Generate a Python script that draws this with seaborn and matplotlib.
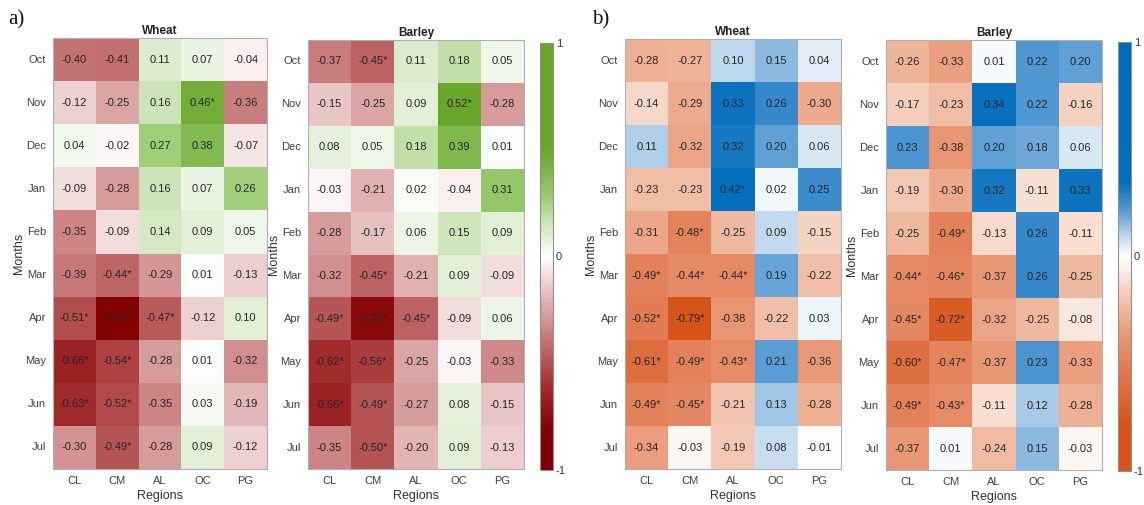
import numpy as np
import pandas as pd
import seaborn as sns
import matplotlib
matplotlib.use("Agg")
import matplotlib.pyplot as plt
from matplotlib.colors import LinearSegmentedColormap, Normalize
from matplotlib.cm import ScalarMappable

sns.set_theme(style="white")
plt.rcParams["font.family"] = ["Liberation Sans", "DejaVu Sans"]

months = ["Oct", "Nov", "Dec", "Jan", "Feb", "Mar", "Apr", "May", "Jun", "Jul"]
regions = ["CL", "CM", "AL", "OC", "PG"]
sig_level = 0.42  # |r| at or above this is flagged with an asterisk

# panel a) correlations
a_wheat = [
    [-0.40, -0.41, 0.11, 0.07, -0.04],
    [-0.12, -0.25, 0.16, 0.46, -0.36],
    [0.04, -0.02, 0.27, 0.38, -0.07],
    [-0.09, -0.28, 0.16, 0.07, 0.26],
    [-0.35, -0.09, 0.14, 0.09, 0.05],
    [-0.39, -0.44, -0.29, 0.01, -0.13],
    [-0.51, -0.83, -0.47, -0.12, 0.10],
    [-0.66, -0.54, -0.28, 0.01, -0.32],
    [-0.63, -0.52, -0.35, 0.03, -0.19],
    [-0.30, -0.49, -0.28, 0.09, -0.12],
]
a_barley = [
    [-0.37, -0.45, 0.11, 0.18, 0.05],
    [-0.15, -0.25, 0.09, 0.52, -0.28],
    [0.08, 0.05, 0.18, 0.39, 0.01],
    [-0.03, -0.21, 0.02, -0.04, 0.31],
    [-0.28, -0.17, 0.06, 0.15, 0.09],
    [-0.32, -0.45, -0.21, 0.09, -0.09],
    [-0.49, -0.76, -0.45, -0.09, 0.06],
    [-0.62, -0.56, -0.25, -0.03, -0.33],
    [-0.66, -0.49, -0.27, 0.08, -0.15],
    [-0.35, -0.50, -0.20, 0.09, -0.13],
]

# panel b) correlations
b_wheat = [
    [-0.28, -0.27, 0.10, 0.15, 0.04],
    [-0.14, -0.29, 0.33, 0.26, -0.30],
    [0.11, -0.32, 0.32, 0.20, 0.06],
    [-0.23, -0.23, 0.42, 0.02, 0.25],
    [-0.31, -0.48, -0.25, 0.09, -0.15],
    [-0.49, -0.44, -0.44, 0.19, -0.22],
    [-0.52, -0.79, -0.38, -0.22, 0.03],
    [-0.61, -0.49, -0.43, 0.21, -0.36],
    [-0.49, -0.45, -0.21, 0.13, -0.28],
    [-0.34, -0.03, -0.19, 0.08, -0.01],
]
b_barley = [
    [-0.26, -0.33, 0.01, 0.22, 0.20],
    [-0.17, -0.23, 0.34, 0.22, -0.16],
    [0.23, -0.38, 0.20, 0.18, 0.06],
    [-0.19, -0.30, 0.32, -0.11, 0.33],
    [-0.25, -0.49, -0.13, 0.26, -0.11],
    [-0.44, -0.46, -0.37, 0.26, -0.25],
    [-0.45, -0.72, -0.32, -0.25, -0.08],
    [-0.60, -0.47, -0.37, 0.23, -0.33],
    [-0.49, -0.43, -0.11, 0.12, -0.28],
    [-0.37, 0.01, -0.24, 0.15, -0.03],
]


def make_cmap(name, nodes):
    """nodes: list of (value in [-1, 1], rgb 0-255)."""
    pts = [((v + 1) / 2, tuple(c / 255 for c in rgb)) for v, rgb in nodes]
    return LinearSegmentedColormap.from_list(name, pts)


red_green = make_cmap("red_green", [
    (-1.00, (128, 0, 0)),
    (-0.80, (130, 2, 2)),
    (-0.60, (165, 48, 48)),
    (-0.40, (196, 115, 115)),
    (-0.20, (226, 180, 180)),
    (0.00, (255, 255, 255)),
    (0.15, (208, 230, 190)),
    (0.27, (160, 205, 120)),
    (0.38, (130, 185, 80)),
    (0.50, (106, 166, 42)),
    (1.00, (106, 166, 42)),
])

orange_blue = make_cmap("orange_blue", [
    (-1.00, (214, 84, 26)),
    (-0.78, (214, 84, 26)),
    (-0.55, (224, 118, 76)),
    (-0.35, (233, 155, 122)),
    (-0.20, (242, 198, 176)),
    (0.00, (255, 255, 255)),
    (0.10, (188, 214, 236)),
    (0.20, (95, 160, 213)),
    (0.26, (55, 138, 202)),
    (0.35, (2, 110, 188)),
    (1.00, (0, 108, 186)),
])

W, H = 1144, 505


def rect(left, right, top, bottom):
    return [left / W, (H - bottom) / H, (right - left) / W, (bottom - top) / H]


fig = plt.figure(figsize=(W / 100, H / 100), dpi=100)

panels = [
    (a_wheat, "Wheat", red_green, rect(53, 267, 38, 469)),
    (a_barley, "Barley", red_green, rect(308, 524, 40, 469)),
    (b_wheat, "Wheat", orange_blue, rect(625, 841, 39, 469)),
    (b_barley, "Barley", orange_blue, rect(886, 1102, 40, 470)),
]

for values, title, cmap, pos in panels:
    ax = fig.add_axes(pos)
    df = pd.DataFrame(values, index=months, columns=regions)
    labels = df.map(lambda v: f"{v:.2f}" + ("*" if abs(v) >= sig_level else ""))
    sns.heatmap(df, ax=ax, cmap=cmap, vmin=-1, vmax=1, cbar=False,
                annot=labels, fmt="",
                annot_kws={"fontsize": 8, "color": "#262626"})
    ax.set_title(title, fontsize=8.5, fontweight="bold", color="#222222", pad=3)
    ax.set_xlabel("Regions", fontsize=9, color="#333333", labelpad=3)
    ax.set_ylabel("Months", fontsize=9, color="#333333", labelpad=0)
    ax.tick_params(axis="both", length=0, labelsize=8, colors="#404040", pad=5)
    ax.set_yticklabels(months, rotation=0)
    ax.set_xticklabels(regions, rotation=0)
    for side in ax.spines.values():
        side.set_visible(True)
        side.set_color("#b0b0b0")
        side.set_linewidth(0.8)

# colorbars
for cmap, pos in [(red_green, rect(540, 553, 43, 470)),
                  (orange_blue, rect(1118, 1131, 42, 471))]:
    cax = fig.add_axes(pos)
    cb = fig.colorbar(ScalarMappable(norm=Normalize(-1, 1), cmap=cmap), cax=cax)
    cb.set_ticks([-1, 0, 1])
    cb.set_ticklabels(["-1", "0", "1"])
    cb.outline.set_edgecolor("#909090")
    cb.outline.set_linewidth(0.8)
    cax.tick_params(direction="in", length=3, width=0.6, colors="#909090",
                    labelsize=8, labelcolor="#333333", pad=2)

fig.text(8 / W, 1 - 20 / H, "a)", fontsize=15, family="Liberation Serif",
         va="center", ha="left", color="#111111")
fig.text(592 / W, 1 - 20 / H, "b)", fontsize=15, family="Liberation Serif",
         va="center", ha="left", color="#111111")

fig.savefig("out.png", dpi=100)
